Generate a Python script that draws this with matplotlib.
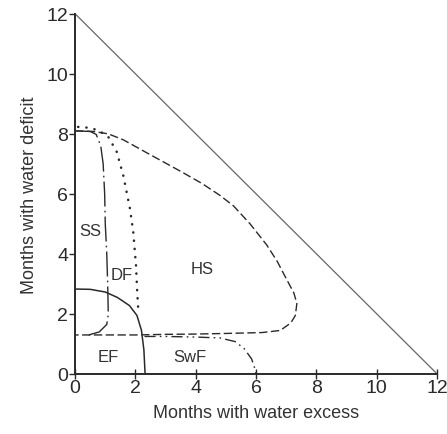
import matplotlib
matplotlib.use("Agg")
import matplotlib.pyplot as plt

plt.rcParams['font.family'] = ['Liberation Sans', 'DejaVu Sans']

# boundary lines (months with water excess, months with water deficit)
hs_x = [0, 0.6, 1.1, 1.6, 2.5, 3.5, 4.2, 4.8, 5.25, 5.8, 6.35, 6.7, 7.0, 7.25, 7.35, 7.3, 7.15, 6.8, 6.2, 5, 4, 3, 2, 1, 0]
hs_y = [8.1, 8.08, 8.0, 7.8, 7.3, 6.75, 6.35, 5.95, 5.6, 5.0, 4.3, 3.75, 3.17, 2.7, 2.35, 1.95, 1.7, 1.45, 1.38, 1.35, 1.33, 1.32, 1.3, 1.3, 1.3]

swf_x = [2.3, 3, 4, 4.8, 5.3, 5.6, 5.85, 5.95, 6.0]
swf_y = [1.25, 1.25, 1.23, 1.2, 1.08, 0.85, 0.5, 0.2, 0]

ef_x = [0, 0.5, 1.0, 1.4, 1.8, 2.05, 2.2, 2.28, 2.32]
ef_y = [2.83, 2.82, 2.73, 2.55, 2.28, 1.95, 1.45, 0.8, 0]

ss_x = [0, 0.5, 0.7, 0.85, 0.93, 0.98, 1.0, 1.05, 1.08, 1.1, 1.05, 0.8, 0.45]
ss_y = [8.1, 8.08, 7.98, 7.6, 7.0, 6.0, 5.0, 4.0, 3.0, 2.0, 1.65, 1.4, 1.3]

df_x = [0.1, 0.5, 0.8, 1.1, 1.38, 1.6, 1.82, 1.93, 2.02, 2.06, 2.1]
df_y = [8.23, 8.2, 8.1, 7.9, 7.4, 6.6, 5.5, 4.7, 3.6, 2.7, 2.05]

labels = ['SS', 'DF', 'HS', 'EF', 'SwF']
label_x = [0.5, 1.55, 4.2, 1.1, 3.8]
label_y = [4.77, 3.33, 3.5, 0.57, 0.57]

ticks = [0, 2, 4, 6, 8, 10, 12]

fig = plt.figure(figsize=(4.47, 4.35), dpi=100)
ax = fig.add_axes([0.168, 0.138, 0.81, 0.828])

ink = '#2a2a2a'
ax.plot([0, 12], [12, 0], color='#666666', lw=0.9)
ax.plot(hs_x, hs_y, color=ink, lw=1.0, dashes=(6, 2.5))
ax.plot(swf_x, swf_y, color=ink, lw=1.0, dashes=(8, 3, 1.2, 3, 1.2, 3))
ax.plot(ef_x, ef_y, color=ink, lw=1.1)
ax.plot(ss_x, ss_y, color=ink, lw=1.0, dashes=(18, 3, 1.2, 3))
ax.plot(df_x, df_y, color=ink, lw=1.8, dashes=(0.1, 3.2), dash_capstyle='round')

for t, x, y in zip(labels, label_x, label_y):
    ax.text(x, y, t, fontsize=12, color='#333333', ha='center', va='center')

ax.set_xlim(0, 12)
ax.set_ylim(0, 12)
ax.set_xticks(ticks)
ax.set_yticks(ticks)
ax.spines['top'].set_visible(False)
ax.spines['right'].set_visible(False)
for s in ['left', 'bottom']:
    ax.spines[s].set_linewidth(1.4)
    ax.spines[s].set_color(ink)
ax.tick_params(axis='x', direction='inout', length=7, width=1, labelsize=14, colors=ink, pad=0)
ax.tick_params(axis='y', direction='out', length=4, width=1, labelsize=14, colors=ink, pad=1)
ax.set_xlabel('Months with water excess', fontsize=13, color='#333333', labelpad=6)
ax.set_ylabel('Months with water deficit', fontsize=13, color='#333333', labelpad=6)

fig.savefig('out.png', dpi=100)
